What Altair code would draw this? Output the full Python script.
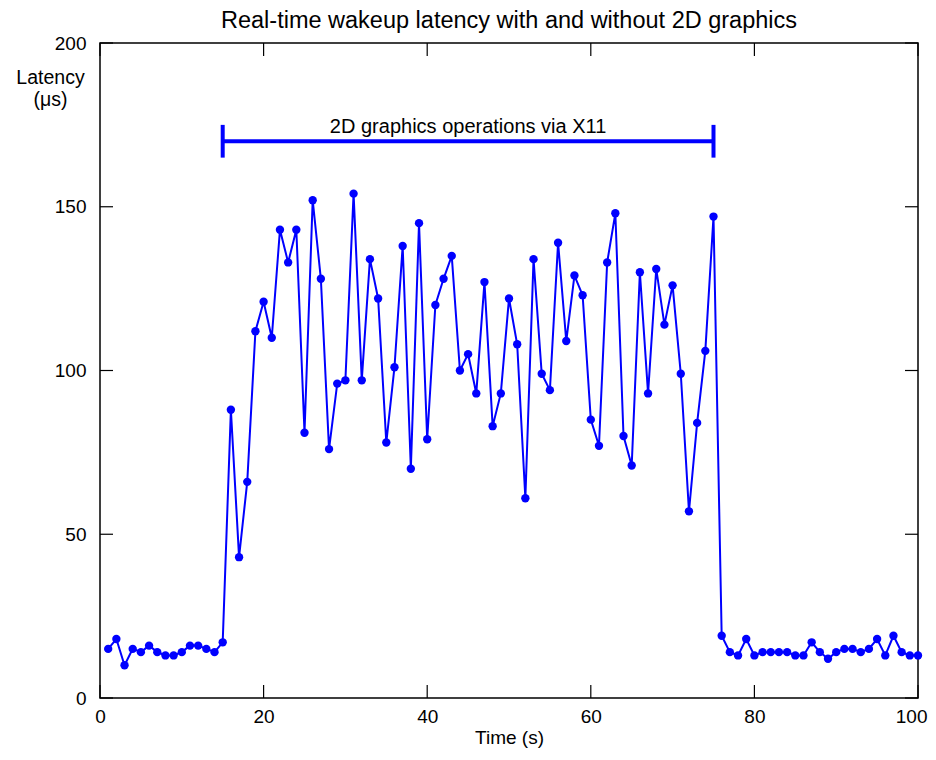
import altair as alt
import pandas as pd

times = list(range(1, 101))
latency = [15, 18, 10, 15, 14, 16, 14, 13, 13, 14, 16, 16, 15, 14, 17,
           88, 43, 66, 112, 121, 110, 143, 133, 143, 81, 152, 128, 76, 96, 97,
           154, 97, 134, 122, 78, 101, 138, 70, 145, 79, 120, 128, 135, 100, 105,
           93, 127, 83, 93, 122, 108, 61, 134, 99, 94, 139, 109, 129, 123, 85,
           77, 133, 148, 80, 71, 130, 93, 131, 114, 126, 99, 57, 84, 106, 147,
           19, 14, 13, 18, 13, 14, 14, 14, 14, 13, 13, 17, 14, 12, 14,
           15, 15, 14, 15, 18, 13, 19, 14, 13, 13]

x_ticks = [0, 20, 40, 60, 80, 100]
y_ticks = [0, 50, 100, 150, 200]

span_start = [15]
span_end = [75]
span_level = [170]
cap_low = [165]
cap_high = [175]
span_label = ["2D graphics operations via X11"]
label_x = [45]
label_y = [174.5]

W, H = 818, 655
BLUE = "#0000ff"
FONT = "Liberation Sans"

df = pd.DataFrame({"t": times, "lat": latency})
xt = pd.DataFrame({"v": x_ticks})
yt = pd.DataFrame({"v": y_ticks})
span = pd.DataFrame({"a": span_start, "b": span_end, "y": span_level})
caps = pd.DataFrame({"x": span_start + span_end, "lo": cap_low * 2, "hi": cap_high * 2})
lab = pd.DataFrame({"x": label_x, "y": label_y, "text": span_label})

xs = alt.Scale(domain=[0, 100], nice=False, zero=False)
ys = alt.Scale(domain=[0, 200], nice=False, zero=False)

x_axis = alt.Axis(values=x_ticks, ticks=False, grid=False, domain=False,
                  labelFontSize=19, labelPadding=9, labelFont=FONT, labelFlush=False,
                  labelAlign={"expr": "datum.value == 100 ? 'right' : 'center'"},
                  labelOffset={"expr": "datum.value == 100 ? 9 : 0"},
                  title="Time (s)", titleFontSize=19, titleFont=FONT,
                  titleFontWeight="normal", titlePadding=2)
y_axis = alt.Axis(values=y_ticks, ticks=False, grid=False, domain=False,
                  labelFontSize=19, labelPadding=14, labelFont=FONT, labelFlush=False,
                  title=["Latency", "(μs)"], titleAngle=0, titleAlign="center",
                  titleBaseline="top", titleX=-50, titleY=25, titleLineHeight=22,
                  titleFontSize=19.5, titleFont=FONT, titleFontWeight="normal")

line = alt.Chart(df).mark_line(color=BLUE, strokeWidth=2).encode(
    x=alt.X("t:Q", scale=xs, axis=x_axis),
    y=alt.Y("lat:Q", scale=ys, axis=y_axis),
)
pts = alt.Chart(df).mark_circle(color=BLUE, opacity=1, size=70).encode(
    x=alt.X("t:Q", scale=xs), y=alt.Y("lat:Q", scale=ys))

TL = 13
xb = alt.Chart(xt).mark_rule(color="black", strokeWidth=1.2).encode(
    x=alt.X("v:Q", scale=xs), y=alt.value(H - TL), y2=alt.value(H))
xtop = alt.Chart(xt).mark_rule(color="black", strokeWidth=1.2).encode(
    x=alt.X("v:Q", scale=xs), y=alt.value(0), y2=alt.value(TL))
yl = alt.Chart(yt).mark_rule(color="black", strokeWidth=1.2).encode(
    y=alt.Y("v:Q", scale=ys), x=alt.value(0), x2=alt.value(TL))
yr = alt.Chart(yt).mark_rule(color="black", strokeWidth=1.2).encode(
    y=alt.Y("v:Q", scale=ys), x=alt.value(W - TL), x2=alt.value(W))

bar = alt.Chart(span).mark_rule(color=BLUE, strokeWidth=4).encode(
    x=alt.X("a:Q", scale=xs), x2="b:Q", y=alt.Y("y:Q", scale=ys))
capm = alt.Chart(caps).mark_rule(color=BLUE, strokeWidth=4).encode(
    x=alt.X("x:Q", scale=xs), y=alt.Y("lo:Q", scale=ys), y2="hi:Q")
txt = alt.Chart(lab).mark_text(fontSize=20, font=FONT, color="black", baseline="middle").encode(
    x=alt.X("x:Q", scale=xs), y=alt.Y("y:Q", scale=ys), text="text:N")

chart = alt.layer(line, pts, xb, xtop, yl, yr, bar, capm, txt).properties(
    width=W, height=H,
    autosize="none",
    padding={"left": 92, "top": 35, "right": 10, "bottom": 54},
    title=alt.TitleParams("Real-time wakeup latency with and without 2D graphics",
                          fontSize=23.5, font=FONT, fontWeight="normal", offset=2,
                          anchor="middle", color="black"),
).configure_view(stroke="black", strokeWidth=1.5).configure_axis(labelColor="black", titleColor="black")

chart.save("out.html", embed_options={"renderer": "svg", "actions": False})
